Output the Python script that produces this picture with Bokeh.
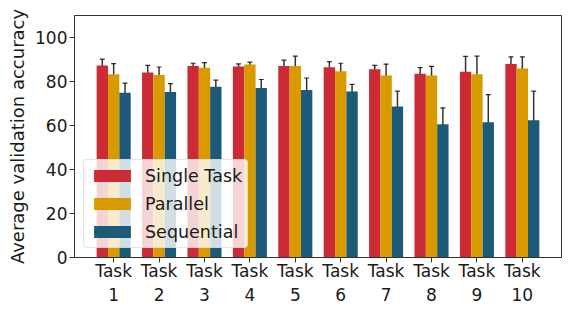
from bokeh.plotting import figure
from bokeh.models import ColumnDataSource, Range1d, Whisker, TeeHead, Legend, LegendItem, FixedTicker
from bokeh.embed import file_html
from bokeh.resources import INLINE

tasks = ["Task\n1", "Task\n2", "Task\n3", "Task\n4", "Task\n5",
         "Task\n6", "Task\n7", "Task\n8", "Task\n9", "Task\n10"]
single = [87.3, 84.1, 87.1, 86.8, 87.1, 86.5, 85.6, 83.5, 84.4, 88.0]
single_err = [2.9, 3.2, 1.2, 1.2, 2.6, 2.5, 1.7, 2.8, 7.0, 3.2]
parallel = [83.3, 83.0, 86.2, 87.7, 87.1, 84.7, 82.7, 82.7, 83.3, 85.9]
parallel_err = [4.8, 3.6, 2.4, 1.1, 4.4, 3.6, 5.2, 4.2, 8.2, 5.3]
sequential = [74.9, 75.2, 77.6, 77.0, 76.1, 75.5, 68.6, 60.6, 61.5, 62.4]
sequential_err = [4.4, 3.8, 3.0, 3.9, 5.5, 3.2, 7.0, 7.4, 12.5, 13.2]

series = [("Single Task", single, single_err, "#CC2B36", -0.25),
          ("Parallel", parallel, parallel_err, "#D99A00", 0.0),
          ("Sequential", sequential, sequential_err, "#1D5A78", 0.25)]

FONT = "DejaVu Sans"
p = figure(width=566, height=315, output_backend="svg", toolbar_location=None,
           x_range=Range1d(-0.8625, 9.8625), y_range=Range1d(0, 110),
           min_border_left=74, min_border_right=5, min_border_top=15, min_border_bottom=58)

items = []
for name, vals, errs, color, off in series:
    xs = [i + off for i in range(len(vals))]
    src = ColumnDataSource(dict(x=xs, top=vals,
                                upper=[v + e for v, e in zip(vals, errs)],
                                lower=[v - e for v, e in zip(vals, errs)]))
    r = p.vbar(x="x", top="top", width=0.25, bottom=0, source=src,
               fill_color=color, line_color=None)
    w = Whisker(source=src, base="x", upper="upper", lower="lower",
                line_color="black", line_alpha=0.8, line_width=1.5,
                upper_head=TeeHead(size=5, line_color="black", line_width=1.2, line_alpha=0.8),
                lower_head=TeeHead(size=5, line_color="black", line_width=1.2, line_alpha=0.8))
    p.add_layout(w)
    items.append(LegendItem(label=name, renderers=[r]))

legend = Legend(items=items, location=(9, 9), padding=5, spacing=7,
                glyph_width=46, glyph_height=15, label_standoff=10, label_height=21,
                label_text_font=FONT, label_text_font_size="17.5px", label_text_color="#1a1a1a",
                background_fill_color="white", background_fill_alpha=0.8,
                border_line_color="#cccccc", border_line_width=1, border_radius=4, margin=0)
p.add_layout(legend)

p.xgrid.visible = False
p.ygrid.visible = False
p.outline_line_color = "#333333"
p.outline_line_width = 1

p.xaxis.ticker = FixedTicker(ticks=list(range(len(tasks))))
p.xaxis.major_label_overrides = {i: t for i, t in enumerate(tasks)}
p.yaxis.ticker = FixedTicker(ticks=[0, 20, 40, 60, 80, 100])
p.yaxis.axis_label = "Average validation accuracy"

for ax in (p.xaxis[0], p.yaxis[0]):
    ax.major_label_text_font = FONT
    ax.major_label_text_font_size = "17px"
    ax.major_label_text_color = "#1a1a1a"
    ax.axis_line_color = "#333333"
    ax.major_tick_line_color = "#333333"
    ax.major_tick_out = 5
    ax.major_tick_in = 0
    ax.minor_tick_line_color = None
p.xaxis.major_label_standoff = -2
p.yaxis.major_label_standoff = 2
p.yaxis.axis_label_text_font = FONT
p.yaxis.axis_label_text_font_size = "18px"
p.yaxis.axis_label_text_font_style = "normal"
p.yaxis.axis_label_text_color = "#1a1a1a"
p.yaxis.axis_label_standoff = 4

open("out.html", "w").write(file_html(p, INLINE))
